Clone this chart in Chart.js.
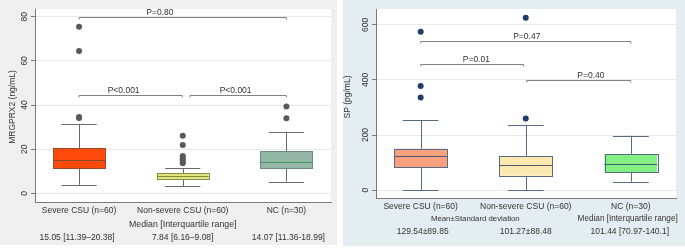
<!DOCTYPE html>
<html>
<head>
<meta charset="utf-8">
<script src="https://cdn.jsdelivr.net/npm/chart.js@4.4.0/dist/chart.umd.min.js"></script>
<style>
  body { margin: 0; background: #fff; }
  canvas { position: absolute; top: 0; }
</style>
</head>
<body>
<canvas id="mrgChart" width="337" height="245" style="left:0"></canvas>
<canvas id="spChart" width="342" height="246" style="left:343px"></canvas>
<script>
const categories = ["Severe CSU (n=60)", "Non-severe CSU (n=60)", "NC (n=30)"];

// MRGPRX2 (ng/mL)
const mrgQ1 = [11.39, 6.16, 11.36];
const mrgMedian = [15.05, 7.84, 14.07];
const mrgQ3 = [20.38, 9.08, 18.99];
const mrgLow = [3.9, 3.3, 5.3];
const mrgHigh = [31.5, 11.5, 27.9];
const mrgOutliers = [
  [34.1, 34.6, 64.5, 75.5],
  [13.6, 14.4, 15.2, 16.0, 16.9, 21.9, 26.1],
  [34.0, 39.4]
];
const mrgTicks = [0, 20, 40, 60, 80];
const mrgStats = ["15.05 [11.39\u201320.38]", "7.84 [6.16\u20139.08]", "14.07 [11.36-18.99]"];
const mrgBrackets = [
  { from: 0, to: 2, y: 80, label: "P=0.80", at: 0.78 },
  { from: 0, to: 0.995, y: 44.5, label: "P<0.001", at: 0.43 },
  { from: 1.07, to: 2, y: 44.5, label: "P<0.001", at: 1.51 }
];

// SP (pg/mL)
const spQ1 = [83, 52, 64];
const spMedian = [122, 91, 94];
const spQ3 = [150, 124, 131];
const spLow = [0, 0, 30];
const spHigh = [254, 237, 197];
const spOutliers = [
  [336, 378, 575],
  [260, 626],
  []
];
const spTicks = [0, 200, 400, 600];
const spStats = ["129.54\u00b189.85", "101.27\u00b188.48", "101.44 [70.97-140.1]"];
const spBrackets = [
  { from: 0, to: 2, y: 543, label: "P=0.47", at: 1.01 },
  { from: 0, to: 0.98, y: 457, label: "P=0.01", at: 0.53 },
  { from: 1.01, to: 2, y: 401, label: "P=0.40", at: 1.62 }
];

const FONT = "'Liberation Sans', Arial, sans-serif";

function boxPlugin(cfg) {
  return {
    id: "boxes",
    beforeDraw(chart) {
      const c = chart.ctx, a = chart.chartArea;
      c.save();
      c.fillStyle = cfg.panelBg;
      c.fillRect(0, 0, chart.width, chart.height);
      c.fillStyle = "#fff";
      c.fillRect(a.left, a.top, a.right - a.left, a.bottom - a.top);
      c.restore();
    },
    beforeDatasetsDraw(chart) {
      const c = chart.ctx, x = chart.scales.x, y = chart.scales.y;
      c.save();
      c.lineWidth = 1;
      categories.forEach((_, i) => {
        const cx = x.getPixelForValue(i);
        const bw = x.getPixelForValue(i + 0.25) - cx;
        const cw = x.getPixelForValue(i + 0.17) - cx;
        const yq1 = y.getPixelForValue(cfg.q1[i]);
        const yq3 = y.getPixelForValue(cfg.q3[i]);
        const ymed = y.getPixelForValue(cfg.median[i]);
        const ylo = y.getPixelForValue(cfg.low[i]);
        const yhi = y.getPixelForValue(cfg.high[i]);
        // whiskers
        c.strokeStyle = cfg.whisker;
        c.beginPath();
        c.moveTo(Math.round(cx) + 0.5, yq3); c.lineTo(Math.round(cx) + 0.5, yhi);
        c.moveTo(Math.round(cx) + 0.5, yq1); c.lineTo(Math.round(cx) + 0.5, ylo);
        c.moveTo(cx - cw, Math.round(yhi) + 0.5); c.lineTo(cx + cw, Math.round(yhi) + 0.5);
        c.moveTo(cx - cw, Math.round(ylo) + 0.5); c.lineTo(cx + cw, Math.round(ylo) + 0.5);
        c.stroke();
        // box
        c.fillStyle = cfg.fill[i];
        c.fillRect(cx - bw, yq3, 2 * bw, yq1 - yq3);
        c.strokeStyle = cfg.border[i];
        c.strokeRect(Math.round(cx - bw) + 0.5, Math.round(yq3) + 0.5, Math.round(2 * bw), Math.round(yq1 - yq3));
        // median
        c.strokeStyle = cfg.medianColor[i];
        c.beginPath();
        c.moveTo(cx - bw, Math.round(ymed) + 0.5); c.lineTo(cx + bw, Math.round(ymed) + 0.5);
        c.stroke();
      });
      c.restore();
    },
    afterDraw(chart) {
      const c = chart.ctx, x = chart.scales.x, y = chart.scales.y, a = chart.chartArea;
      c.save();
      c.fillStyle = "#333";
      c.textAlign = "center";
      c.textBaseline = "middle";

      // rotated y tick labels
      c.font = "8.5px " + FONT;
      cfg.ticks.forEach(v => {
        c.save();
        c.translate(a.left - cfg.tickLabelGap, y.getPixelForValue(v));
        c.rotate(-Math.PI / 2);
        c.fillText(String(v), 0, 0);
        c.restore();
      });

      // y title
      c.save();
      c.translate(cfg.titleX, cfg.titleY);
      c.rotate(-Math.PI / 2);
      c.fillText(cfg.title, 0, 0);
      c.restore();

      // significance brackets
      c.strokeStyle = "#808080";
      c.lineWidth = 1;
      cfg.brackets.forEach(b => {
        const yy = Math.round(y.getPixelForValue(b.y)) + 0.5;
        const x0 = x.getPixelForValue(b.from), x1 = x.getPixelForValue(b.to);
        c.beginPath();
        c.moveTo(x0, yy + 2); c.lineTo(x0, yy); c.lineTo(x1, yy); c.lineTo(x1, yy + 2);
        c.stroke();
        c.fillText(b.label, x.getPixelForValue(b.at), yy - 5);
      });

      // category labels and summary rows
      c.font = "8.5px " + FONT;
      categories.forEach((cat, i) => {
        const cx = x.getPixelForValue(i);
        c.fillText(cat, cx, a.bottom + cfg.rows[0]);
        c.fillText(cfg.stats[i], cx + cfg.statShift[i], a.bottom + cfg.rows[2]);
      });
      cfg.captions.forEach(cap => {
        c.font = cap.size + "px " + FONT;
        c.fillText(cap.text, x.getPixelForValue(cap.at), a.bottom + cfg.rows[1]);
      });
      c.restore();
    }
  };
}

function makeChart(id, cfg) {
  const points = [];
  cfg.outliers.forEach((list, i) => list.forEach(v => points.push({ x: i, y: v })));
  return new Chart(document.getElementById(id), {
    type: "scatter",
    data: {
      datasets: [{
        data: points,
        backgroundColor: cfg.dot,
        borderWidth: 0,
        pointRadius: 3,
        pointHoverRadius: 3
      }]
    },
    options: {
      responsive: false,
      animation: false,
      devicePixelRatio: 1,
      layout: { padding: cfg.padding },
      plugins: { legend: { display: false }, tooltip: { enabled: false } },
      scales: {
        x: {
          type: "linear",
          min: -0.425,
          max: 2.43,
          grid: { display: false, drawTicks: false },
          ticks: { display: false },
          border: { color: "#7a7a7a" }
        },
        y: {
          min: cfg.yMin,
          max: cfg.yMax,
          ticks: { display: false, stepSize: cfg.ticks[1], includeBounds: false },
          grid: { color: "#e8e8e8", tickLength: 4, tickColor: "#7a7a7a" },
          border: { color: "#7a7a7a" }
        }
      }
    },
    plugins: [boxPlugin(cfg)]
  });
}

makeChart("mrgChart", {
  panelBg: "#efefef",
  padding: { left: 31, top: 9, right: 6, bottom: 43 },
  yMin: -3.9, yMax: 83.5,
  ticks: mrgTicks,
  q1: mrgQ1, q3: mrgQ3, median: mrgMedian, low: mrgLow, high: mrgHigh,
  outliers: mrgOutliers,
  fill: ["#ff4a0c", "#dfe57e", "#93b6a6"],
  border: ["#9a4a2a", "#8a8a46", "#6c8a80"],
  medianColor: ["#8a4a26", "#7d8c36", "#3c9c5c"],
  whisker: "#6a6a6a",
  dot: "#595959",
  tickLabelGap: 10,
  title: "MRGPRX2 (ng/mL)", titleX: 13, titleY: 107,
  brackets: mrgBrackets,
  stats: mrgStats,
  statShift: [-2, 0, 2],
  rows: [8.7, 23, 35.7],
  captions: [{ text: "Median [Interquartile range]", at: 1, size: 8.8 }]
});

makeChart("spChart", {
  panelBg: "#e4edf1",
  padding: { left: 29, top: 9, right: 9, bottom: 48 },
  yMin: -29, yMax: 658,
  ticks: spTicks,
  q1: spQ1, q3: spQ3, median: spMedian, low: spLow, high: spHigh,
  outliers: spOutliers,
  fill: ["#f9a07f", "#fde9b0", "#82f082"],
  border: ["#556b88", "#556b88", "#556b88"],
  medianColor: ["#4a5a72", "#4a5a72", "#4a5a72"],
  whisker: "#556b88",
  dot: "#1f3d66",
  tickLabelGap: 10.3,
  title: "SP (pg/mL)", titleX: 4.5, titleY: 97,
  brackets: spBrackets,
  stats: spStats,
  statShift: [2, 0, -1],
  rows: [9, 21, 33.7],
  captions: [
    { text: "Mean\u00b1Standard deviation", at: 0.52, size: 7.8 },
    { text: "Median [Interquartile range]", at: 1.97, size: 8.2 }
  ]
});
</script>
</body>
</html>
